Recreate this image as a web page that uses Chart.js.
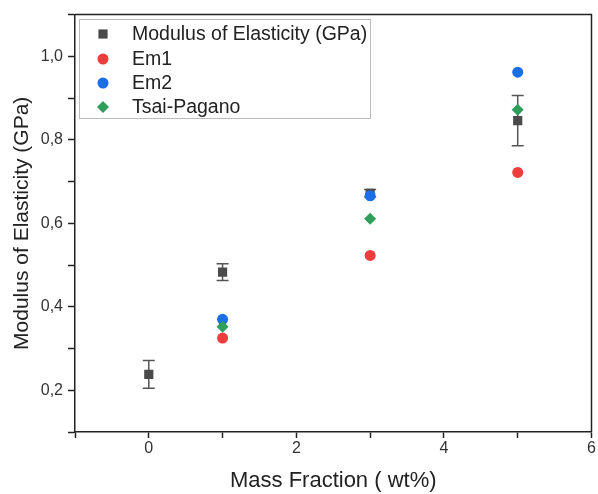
<!DOCTYPE html>
<html>
<head>
<meta charset="utf-8">
<script src="https://cdn.jsdelivr.net/npm/chart.js@4.4.1/dist/chart.umd.min.js"></script>
<style>
  html, body { margin: 0; padding: 0; background: #fff; }
  #wrap { width: 598px; height: 494px; }
</style>
</head>
<body>
<div id="wrap"><canvas id="grafico" width="598" height="494"></canvas></div>
<script>
// dados
const fracao = [0, 1, 3, 5];
const modulo = [0.238, 0.483, 0.672, 0.846];
const moduloErro = [0.033, 0.02, 0.009, 0.06];
const fracaoModelo = [1, 3, 5];
const em1 = [0.325, 0.523, 0.722];
const em2 = [0.37, 0.666, 0.962];
const tsaiPagano = [0.352, 0.611, 0.872];
const ticksX = [0, 2, 4, 6];
const ticksY = [0.2, 0.4, 0.6, 0.8, 1.0];

const fonte = 'Liberation Sans, Arial, sans-serif';
const pontos = (xs, ys) => xs.map((x, i) => ({ x: x, y: ys[i] }));

// barras de erro desenhadas pelas escalas
const barrasErro = {
  id: 'barrasErro',
  beforeDatasetsDraw(chart) {
    const { ctx, scales: { x, y } } = chart;
    ctx.save();
    ctx.strokeStyle = '#555';
    ctx.lineWidth = 1.5;
    fracao.forEach((fx, i) => {
      const px = x.getPixelForValue(fx);
      const top = y.getPixelForValue(modulo[i] + moduloErro[i]);
      const bot = y.getPixelForValue(modulo[i] - moduloErro[i]);
      ctx.beginPath();
      ctx.moveTo(px, top); ctx.lineTo(px, bot);
      ctx.moveTo(px - 6, top); ctx.lineTo(px + 6, top);
      ctx.moveTo(px - 6, bot); ctx.lineTo(px + 6, bot);
      ctx.stroke();
    });
    ctx.restore();
  }
};

// moldura e legenda dentro da área do gráfico
const moldura = {
  id: 'moldura',
  afterDraw(chart) {
    const { ctx, chartArea: a } = chart;
    ctx.save();
    ctx.strokeStyle = '#222';
    ctx.lineWidth = 1.5;
    ctx.beginPath();
    ctx.moveTo(a.left, a.top); ctx.lineTo(a.right, a.top); ctx.lineTo(a.right, a.bottom);
    ctx.stroke();

    ctx.strokeStyle = '#bbb';
    ctx.lineWidth = 1;
    ctx.strokeRect(79.5, 19.5, 291, 99);
    ctx.font = '19.5px ' + fonte;
    ctx.textBaseline = 'middle';
    const linhas = [34, 59, 83, 107];
    chart.data.datasets.forEach((ds, i) => {
      ctx.fillStyle = ds.backgroundColor;
      Chart.helpers.drawPoint(ctx, { pointStyle: ds.pointStyle, radius: ds.pointRadius, borderWidth: 0 }, 103, linhas[i]);
      ctx.fillStyle = '#222';
      ctx.fillText(ds.label, 132, linhas[i] + 1);
    });
    ctx.restore();
  }
};

new Chart(document.getElementById('grafico').getContext('2d'), {
  type: 'scatter',
  data: {
    datasets: [
      { label: 'Modulus of Elasticity (GPa)', data: pontos(fracao, modulo), backgroundColor: '#4a4a4a', borderColor: '#4a4a4a', pointStyle: 'rect', pointRadius: 6.5, borderWidth: 0, order: 4 },
      { label: 'Em1', data: pontos(fracaoModelo, em1), backgroundColor: '#f03c3c', borderColor: '#f03c3c', pointStyle: 'circle', pointRadius: 5.5, borderWidth: 0, order: 3 },
      { label: 'Em2', data: pontos(fracaoModelo, em2), backgroundColor: '#1a6fe6', borderColor: '#1a6fe6', pointStyle: 'circle', pointRadius: 5.5, borderWidth: 0, order: 2 },
      { label: 'Tsai-Pagano', data: pontos(fracaoModelo, tsaiPagano), backgroundColor: '#2e9e5a', borderColor: '#2e9e5a', pointStyle: 'rectRot', pointRadius: 6, borderWidth: 0, order: 1 }
    ]
  },
  options: {
    responsive: false,
    animation: false,
    layout: { padding: { top: 14, right: 5, left: 0, bottom: 0 } },
    plugins: { legend: { display: false }, tooltip: { enabled: false } },
    scales: {
      x: {
        min: -1, max: 6,
        afterFit: s => { s.height = 62; s.paddingRight = 0; s.paddingLeft = 0; },
        grid: { drawOnChartArea: false, tickLength: 6, color: '#222', tickWidth: 1.5 },
        border: { color: '#222', width: 1.5 },
        ticks: {
          stepSize: 1, padding: 1, color: '#333', font: { family: fonte, size: 16 },
          callback: v => ticksX.includes(v) ? String(v) : ''
        },
        title: { display: true, text: 'Mass Fraction ( wt%)', color: '#222', font: { family: fonte, size: 22 }, padding: { top: 0, bottom: 0 } }
      },
      y: {
        min: 0.1, max: 1.1,
        afterFit: s => { s.width = 75; },
        grid: { drawOnChartArea: false, tickLength: 7, color: '#222', tickWidth: 1.5 },
        border: { color: '#222', width: 1.5 },
        ticks: {
          stepSize: 0.1, padding: 5, color: '#333', font: { family: fonte, size: 16 },
          callback: v => ticksY.some(t => Math.abs(t - v) < 1e-6) ? v.toFixed(1).replace('.', ',') : ''
        },
        title: { display: true, text: 'Modulus of Elasticity (GPa)', color: '#222', font: { family: fonte, size: 21 }, padding: { top: 10, bottom: 0 } }
      }
    }
  },
  plugins: [barrasErro, moldura]
});
</script>
</body>
</html>
